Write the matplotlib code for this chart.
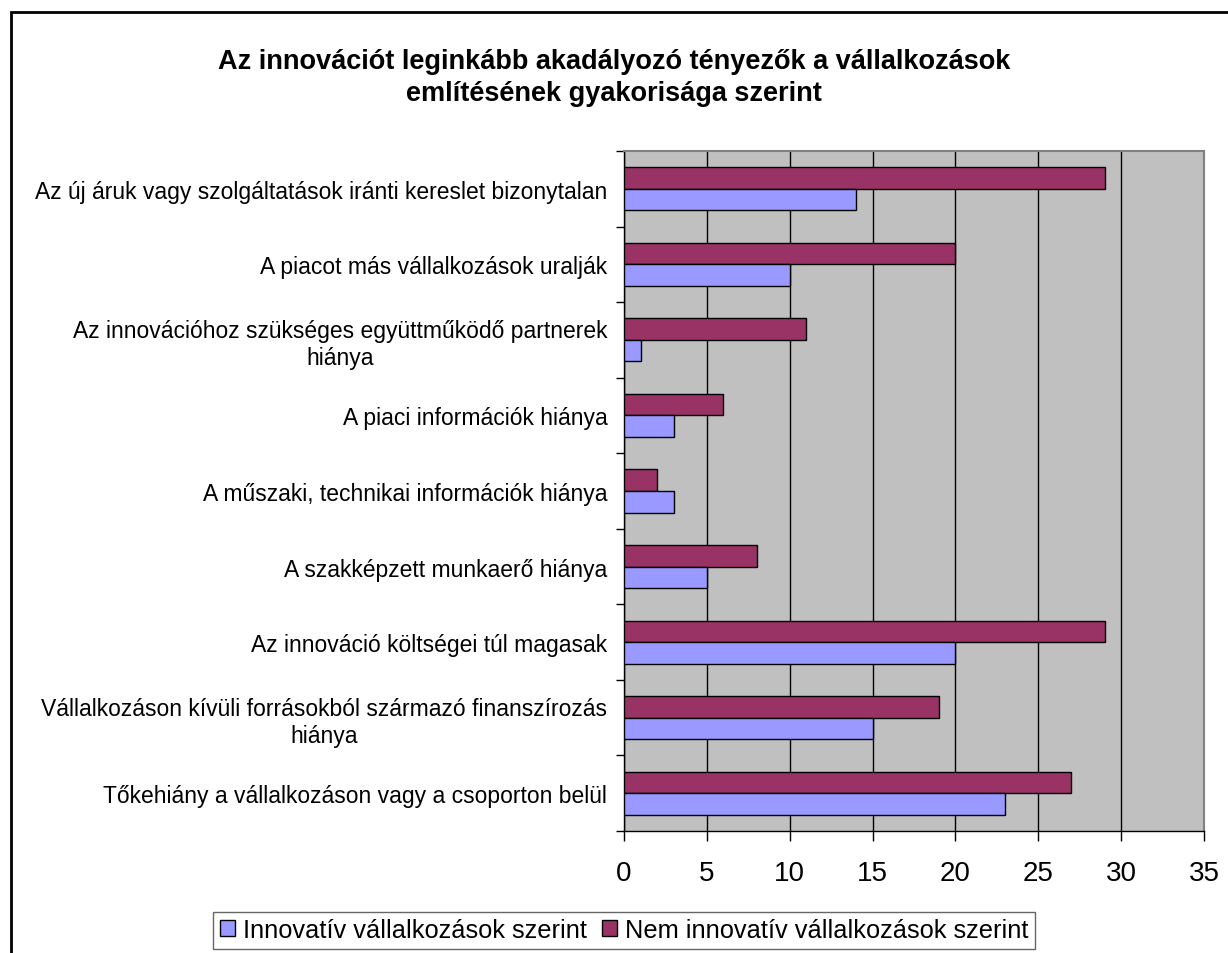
import numpy as np
import matplotlib
matplotlib.use('Agg')
import matplotlib.pyplot as plt
from matplotlib.patches import Rectangle, Patch

plt.rcParams['font.family'] = ['Liberation Sans', 'DejaVu Sans']

title = ('Az innovációt leginkább akadályozó tényezők a vállalkozások\n'
         'említésének gyakorisága szerint')

# categories, top to bottom as shown
categories = [
    'Az új áruk vagy szolgáltatások iránti kereslet bizonytalan',
    'A piacot más vállalkozások uralják',
    'Az innovációhoz szükséges együttműködő partnerek\nhiánya',
    'A piaci információk hiánya',
    'A műszaki, technikai információk hiánya',
    'A szakképzett munkaerő hiánya',
    'Az innováció költségei túl magasak',
    'Vállalkozáson kívüli forrásokból származó finanszírozás\nhiánya',
    'Tőkehiány a vállalkozáson vagy a csoporton belül',
]
innovativ = [14, 10, 1, 3, 3, 5, 20, 15, 23]
nem_innovativ = [29, 20, 11, 6, 2, 8, 29, 19, 27]
series_names = ['Innovatív vállalkozások szerint', 'Nem innovatív vállalkozások szerint']
x_ticks = [0, 5, 10, 15, 20, 25, 30, 35]

blue = '#9999FF'
red = '#993366'

fig = plt.figure(figsize=(12.28, 9.54), dpi=100)
ax = fig.add_axes([624/1228, 122/954, 580/1228, 680/954])
ax.set_facecolor('#C0C0C0')

y = np.arange(len(categories))
h = 1 / 1.75 / 2
ax.barh(y - h/2, nem_innovativ, height=h, color=red, edgecolor='black', linewidth=1, zorder=3)
ax.barh(y + h/2, innovativ, height=h, color=blue, edgecolor='black', linewidth=1, zorder=3)

ax.set_xlim(0, 35)
ax.set_ylim(len(categories) - 0.5, -0.5)
ax.set_xticks(x_ticks)
ax.set_xticklabels([str(t) for t in x_ticks], fontsize=20)
ax.tick_params(axis='x', direction='out', length=7, width=1, pad=14)

# category labels centred, tick marks between categories
ax.set_yticks(y)
ax.set_yticklabels(categories, fontsize=16.5, multialignment='center', linespacing=1.2)
ax.tick_params(axis='y', which='major', length=0, pad=12)
ax.set_yticks(np.arange(len(categories) + 1) - 0.5, minor=True)
ax.tick_params(axis='y', which='minor', direction='out', length=6, width=1)

ax.grid(axis='x', color='black', linewidth=1, zorder=1)
ax.set_axisbelow(True)
for s in ['top', 'right']:
    ax.spines[s].set_color('#808080')
    ax.spines[s].set_linewidth(1.5)
ax.spines['left'].set_linewidth(1)
ax.spines['bottom'].set_linewidth(1)

fig.text(614/1228, 1 - 78/954, title, ha='center', va='center', fontsize=19.5,
         fontweight='bold', linespacing=1.3)

handles = [Patch(facecolor=blue, edgecolor='black', linewidth=1),
           Patch(facecolor=red, edgecolor='black', linewidth=1)]
leg = fig.legend(handles, series_names, loc='upper center', ncol=2,
                 bbox_to_anchor=(624/1228, 41/954), fontsize=18.3,
                 frameon=True, fancybox=False, shadow=False, edgecolor='#404040',
                 handlelength=0.6, handleheight=0.6, handletextpad=0.3,
                 columnspacing=0.6, borderpad=0.25, borderaxespad=0)
leg.get_frame().set_linewidth(1)

fig.patches.append(Rectangle((11/1228, -0.05), 1.1, 1 - 13/954 + 0.05,
                             transform=fig.transFigure, fill=False,
                             edgecolor='black', linewidth=2))

fig.savefig('out.png', dpi=100)
